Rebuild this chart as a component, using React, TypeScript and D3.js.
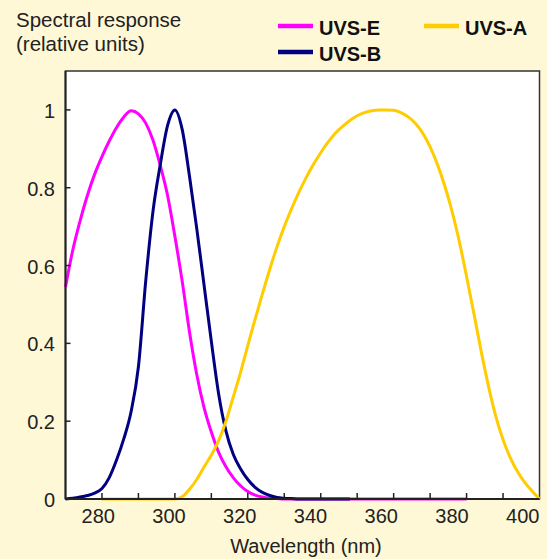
import React, { useEffect, useRef } from 'react';
import * as d3 from 'd3';

// wavelength grid (nm), 2 nm steps
const wavelengths = d3.range(270, 401, 2);

// UVS-E (magenta), null = not drawn
const uvsE = [
  0.545, 0.64, 0.715, 0.78, 0.835, 0.88, 0.92, 0.955, 0.982, 0.998,
  0.99, 0.966, 0.922, 0.857, 0.78, 0.675, 0.56, 0.43, 0.32, 0.235,
  0.172, 0.12, 0.083, 0.055, 0.034, 0.019, 0.01, 0.005, 0.002, 0.001,
  0, 0, 0, 0, 0, 0, 0, 0, 0, 0,
  0, 0, 0, 0, 0, 0, 0, 0, 0, 0,
  0, 0, 0, 0, 0, 0, null, null, null, null,
  null, null, null, null, null, null,
];

// UVS-B (navy)
const uvsB = [
  0, 0.002, 0.005, 0.009, 0.015, 0.027, 0.055, 0.1, 0.155, 0.225,
  0.34, 0.56, 0.74, 0.86, 0.96, 1.0, 0.95, 0.83, 0.695, 0.55,
  0.405, 0.27, 0.175, 0.115, 0.078, 0.05, 0.03, 0.017, 0.009, 0.004,
  0.002, 0.001, 0, 0, 0, 0, 0, 0, 0, 0,
  null, null, null, null, null, null, null, null, null, null,
  null, null, null, null, null, null, null, null, null, null,
  null, null, null, null, null, null,
];

// UVS-A (gold)
const uvsA = [
  null, null, null, null, null, 0, 0, 0, 0, 0,
  0, 0, 0, 0, 0, 0, 0.006, 0.025, 0.05, 0.082,
  0.113, 0.15, 0.2, 0.262, 0.325, 0.395, 0.462, 0.527, 0.59, 0.648,
  0.7, 0.746, 0.788, 0.826, 0.86, 0.89, 0.917, 0.94, 0.958, 0.973,
  0.985, 0.993, 0.998, 1.0, 1.0, 0.999, 0.993, 0.982, 0.965, 0.94,
  0.905, 0.86, 0.805, 0.74, 0.662, 0.572, 0.477, 0.38, 0.29, 0.213,
  0.152, 0.106, 0.07, 0.042, 0.02, 0,
];

const xTickValues = d3.range(280, 400, 10);
const xLabelValues = [280, 300, 320, 340, 360, 380, 400];
const yTickValues = [0, 0.2, 0.4, 0.6, 0.8, 1];
const yLabels = ['0', '0.2', '0.4', '0.6', '0.8', '1'];

const series = [
  { name: 'UVS-E', values: uvsE, color: '#ff00ff' },
  { name: 'UVS-B', values: uvsB, color: '#000080' },
  { name: 'UVS-A', values: uvsA, color: '#ffcc00' },
];

const W = 547;
const H = 559;
const font = '"Liberation Sans", Arial, sans-serif';

export default function App() {
  const ref = useRef<SVGSVGElement>(null);

  useEffect(() => {
    const svg = d3.select(ref.current);
    svg.selectAll('*').remove();

    const left = 65.5, right = 539.5, top = 71, bottom = 499;
    const x = d3.scaleLinear().domain([270, 400]).range([left, right]);
    const y = d3.scaleLinear().domain([0, 1.1]).range([bottom, top]);
    // tick labels in the original sit on a slightly tighter spacing than the ticks
    const xLabel = d3.scaleLinear().domain([280, 400]).range([98.3, 522.8]);

    svg.append('rect').attr('width', W).attr('height', H).attr('fill', '#fff8d6');
    svg.append('rect')
      .attr('x', left).attr('y', top)
      .attr('width', right - left).attr('height', bottom - top)
      .attr('fill', '#fff')
      .attr('stroke', '#333').attr('stroke-width', 1.5);

    const line = d3.line<number | null>()
      .defined(d => d !== null)
      .x((d, i) => x(wavelengths[i]))
      .y(d => y(d as number))
      .curve(d3.curveMonotoneX);

    const plot = svg.append('g');
    plot.selectAll('path')
      .data(series)
      .join('path')
      .attr('d', d => line(d.values))
      .attr('fill', 'none')
      .attr('stroke', d => d.color)
      .attr('stroke-width', 3)
      .attr('stroke-linejoin', 'round');

    // axis lines
    svg.append('line').attr('x1', left).attr('x2', left).attr('y1', top).attr('y2', bottom)
      .attr('stroke', '#222').attr('stroke-width', 2);
    svg.append('line').attr('x1', left).attr('x2', right).attr('y1', bottom).attr('y2', bottom)
      .attr('stroke', '#222').attr('stroke-width', 2);

    // inward ticks
    svg.append('g').selectAll('line')
      .data(xTickValues)
      .join('line')
      .attr('x1', d => x(d)).attr('x2', d => x(d))
      .attr('y1', bottom).attr('y2', bottom - 6)
      .attr('stroke', '#222').attr('stroke-width', 1.5);
    svg.append('g').selectAll('line')
      .data(yTickValues.slice(1))
      .join('line')
      .attr('x1', left).attr('x2', left + 5)
      .attr('y1', d => y(d)).attr('y2', d => y(d))
      .attr('stroke', '#222').attr('stroke-width', 1.5);

    svg.append('g').selectAll('text')
      .data(xLabelValues)
      .join('text')
      .attr('x', d => xLabel(d))
      .attr('y', 523)
      .attr('text-anchor', 'middle')
      .attr('font-family', font).attr('font-size', 20).attr('fill', '#222')
      .text(d => d);

    svg.append('g').selectAll('text')
      .data(yTickValues)
      .join('text')
      .attr('x', 55)
      .attr('y', d => y(d) + 8)
      .attr('text-anchor', 'end')
      .attr('font-family', font).attr('font-size', 20).attr('fill', '#222')
      .text((d, i) => yLabels[i]);

    svg.append('text')
      .attr('x', 306).attr('y', 553)
      .attr('text-anchor', 'middle')
      .attr('font-family', font).attr('font-size', 20).attr('fill', '#222')
      .text('Wavelength (nm)');

    const title = svg.append('text')
      .attr('font-family', font).attr('font-size', 20.5).attr('fill', '#222');
    title.append('tspan').attr('x', 16).attr('y', 27).text('Spectral response');
    title.append('tspan').attr('x', 16).attr('y', 51).text('(relative units)');

    // legend
    const legendPos = [
      { lx: 278, ly: 26 },
      { lx: 278, ly: 52 },
      { lx: 424, ly: 26 },
    ];
    const legend = svg.append('g').selectAll('g')
      .data(series)
      .join('g')
      .attr('transform', (d, i) => `translate(${legendPos[i].lx},${legendPos[i].ly})`);
    legend.append('line')
      .attr('x1', 0).attr('x2', 35)
      .attr('stroke', d => d.color).attr('stroke-width', 4.5);
    legend.append('text')
      .attr('x', 41).attr('y', 8.5)
      .attr('font-family', font).attr('font-size', 20).attr('font-weight', 'bold')
      .attr('fill', '#111')
      .text(d => d.name);
  }, []);

  return (
    <svg
      ref={ref}
      width={W}
      height={H}
      style={{ position: 'absolute', left: 0, top: 0, display: 'block' }}
    />
  );
}
